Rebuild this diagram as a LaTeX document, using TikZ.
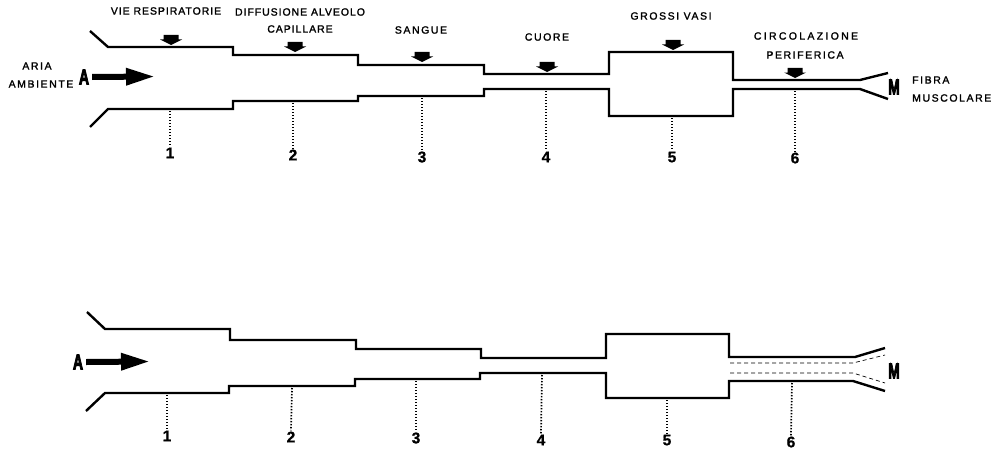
\documentclass[tikz,border=0pt]{standalone}
\usepackage{fontspec}
\usepackage{graphicx}
\usetikzlibrary{arrows.meta}
\setmainfont{Liberation Sans}
\newfontfamily\lblfont[LetterSpace=15,FakeBold=1.6]{Liberation Sans}
\newfontfamily\lblfontn[LetterSpace=9,FakeBold=1.6]{Liberation Sans}
\newfontfamily\lblfontw[LetterSpace=22,FakeBold=1.6]{Liberation Sans}
\newfontfamily\heavyfont[FakeBold=5]{Liberation Sans Bold}
\newfontfamily\numfont[FakeBold=1]{Liberation Sans Bold}

\tikzset{
  wall/.style={line width=2.4pt, line join=miter, line cap=butt},
  guide/.style={line width=1.7pt, line cap=butt, dash pattern=on 1.4pt off 1.6pt},
  flowline/.style={line width=0.7pt, dash pattern=on 4pt off 3pt},
  lbl/.style={inner sep=0pt, font=\lblfont\fontsize{10.5}{12}\selectfont},
  lbln/.style={inner sep=0pt, font=\lblfontn\fontsize{10.5}{12}\selectfont},
  lblw/.style={inner sep=0pt, font=\lblfontw\fontsize{10.5}{12}\selectfont},
  num/.style={inner sep=1pt, font=\numfont\fontsize{15.5}{16}\selectfont},
  endletter/.style={inner sep=0pt, font=\heavyfont\fontsize{21}{21}\selectfont},
  bigflow/.style={line width=6pt, -{Triangle[length=29pt,width=16pt]}},
  downarrow/.pic={\fill (-7.5,0) -- (7.5,0) -- (7.5,4.5) -- (11,4.5) -- (0,10) -- (-11,4.5) -- (-7.5,4.5) -- cycle;},
}
\newcommand{\narrowletter}[1]{\scalebox{0.66}[1]{#1}}

\begin{document}
\begin{tikzpicture}[x=1pt, y=-1pt]
\path[use as bounding box] (0,0) rectangle (998,452);

% ---------- upper chain: oxygen path from air to muscle ----------
\draw[wall] (90,31) -- (108,47) -- (233,47) -- (233,55) -- (358,55) -- (358,65)
  -- (484,65) -- (484,74) -- (609,74) -- (609,52) -- (733,52) -- (733,80)
  -- (860,80) -- (888,73);
\draw[wall] (90,127) -- (108,109) -- (233,109) -- (233,101) -- (358,101) -- (358,96)
  -- (484,96) -- (484,89) -- (609,89) -- (609,116) -- (733,116) -- (733,89)
  -- (860,89) -- (888,99);

% stage labels
\node[lbln] (l1) at (166,11) {VIE RESPIRATORIE};
\node[lbln] (l2a) at (300,12) {DIFFUSIONE ALVEOLO};
\node[lbln] (l2b) at (300,29) {CAPILLARE};
\node[lbl] (l3) at (421,30) {SANGUE};
\node[lbl] (l4) at (547,37) {CUORE};
\node[lbl] (l5) at (671,16) {GROSSI VASI};
\node[lblw] (l6a) at (806,36) {CIRCOLAZIONE};
\node[lbl] (l6b) at (805,55) {PERIFERICA};

% small pointers onto each stage
\pic at (171,35) {downarrow};
\pic at (295,42) {downarrow};
\pic at (422,52) {downarrow};
\pic at (547,62) {downarrow};
\pic at (673,40) {downarrow};
\pic at (795,68) {downarrow};

% inlet and outlet
\node[lbl] (aria) at (37,66) {ARIA};
\node[lbl] (amb) at (41,84) {AMBIENTE};
\node[endletter] (A1) at (84,77) {\narrowletter{A}};
\coordinate (tipA1) at (155,76.5);
\draw[bigflow] ([xshift=3pt]A1.east) -- (tipA1);
\node[endletter] (M1) at (894,87) {\narrowletter{M}};
\node[lbl, anchor=west] (fib) at (912,80) {FIBRA};
\node[lbl, anchor=west] (mus) at (912,98) {MUSCOLARE};

% stage numbers
\node[num] (n1) at (170,153) {1};
\node[num] (n2) at (293,155) {2};
\node[num] (n3) at (422,157) {3};
\node[num] (n4) at (546,157) {4};
\node[num] (n5) at (672,157) {5};
\node[num] (n6) at (795,158) {6};
\coordinate (w1) at (170,111);
\coordinate (w2) at (293,103);
\coordinate (w3) at (422,98);
\coordinate (w4) at (546,91);
\coordinate (w5) at (672,118);
\coordinate (w6) at (795,91);
\foreach \i in {1,...,6} \draw[guide] (w\i) -- (n\i.north);

% ---------- lower chain ----------
\draw[wall] (87,312) -- (105,329) -- (230,329) -- (230,340) -- (356,340) -- (356,349)
  -- (481,349) -- (481,358) -- (606,358) -- (606,334) -- (729,334) -- (729,357)
  -- (855,357) -- (885,348);
\draw[wall] (86,411) -- (105,393) -- (229,393) -- (229,386) -- (355,386) -- (355,379)
  -- (480,379) -- (480,373) -- (606,373) -- (606,398) -- (729,398) -- (729,381)
  -- (853,381) -- (885,391);

% inner stream in the peripheral circulation
\draw[flowline] (730,363) -- (853,363) -- (885,355);
\draw[flowline] (730,373) -- (853,373) -- (885,383);

\node[endletter] (A2) at (78,362) {\narrowletter{A}};
\coordinate (tipA2) at (150,361.5);
\draw[bigflow] ([xshift=3pt]A2.east) -- (tipA2);
\node[endletter] (M2) at (894,371) {\narrowletter{M}};

\node[num] (m1) at (167,436) {1};
\node[num] (m2) at (291,437) {2};
\node[num] (m3) at (416,438) {3};
\node[num] (m4) at (541,440) {4};
\node[num] (m5) at (667,440) {5};
\node[num] (m6) at (791,442) {6};
\coordinate (v1) at (167,395);
\coordinate (v2) at (292,388);
\coordinate (v3) at (416,381);
\coordinate (v4) at (542,375);
\coordinate (v5) at (667,400);
\coordinate (v6) at (792,383);
\foreach \i in {1,...,6} \draw[guide] (v\i) -- (m\i.north);
\end{tikzpicture}
\end{document}
